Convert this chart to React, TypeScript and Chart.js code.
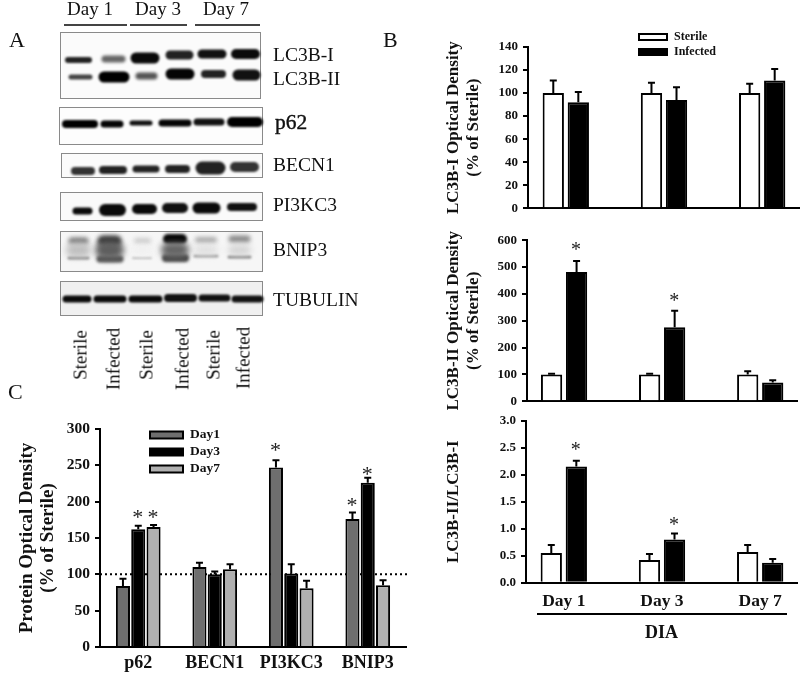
import React, { useEffect, useRef } from "react";
import { Chart, registerables } from "chart.js";

Chart.register(...registerables);

const SERIF = "'Liberation Serif', 'Times New Roman', serif";

// ---------- Panel B data ----------
const dayLabels = ["Day 1", "Day 3", "Day 7"];
const lc3b1Sterile = [100, 100, 100];
const lc3b1SterileTop = [111, 109, 108];
const lc3b1Infected = [92, 94, 111];
const lc3b1InfectedTop = [101, 105, 121];

const lc3b2Sterile = [100, 100, 100];
const lc3b2SterileTop = [103, 103, 112];
const lc3b2Infected = [482, 276, 70];
const lc3b2InfectedTop = [523, 337, 78];
const lc3b2InfectedStars = [582, 390, null];

const ratioSterile = [0.55, 0.42, 0.57];
const ratioSterileTop = [0.7, 0.53, 0.7];
const ratioInfected = [2.15, 0.8, 0.37];
const ratioInfectedTop = [2.26, 0.91, 0.44];
const ratioInfectedStars = [2.55, 1.16, null];

// ---------- Panel C data ----------
const proteinLabels = ["p62", "BECN1", "PI3KC3", "BNIP3"];
const day1Values = [84, 110, 247, 176];
const day1Top = [94, 116, 257, 185];
const day1Stars = [null, null, 278, 202];
const day3Values = [162, 100, 101, 226];
const day3Top = [167, 104, 114, 233];
const day3Stars = [186, null, null, 245];
const day7Values = [165, 107, 81, 85];
const day7Top = [168, 114, 91, 92];
const day7Stars = [186, null, null, null];

// ---------- Panel A: blot bands as [from, to, row, thickness, grey, blur] in gel units ----------
const lc3b1Bands = [[68, 89, 60, 6, "#222", 1.3], [105, 122, 59, 7, "#666", 1.5], [136, 154, 58, 11, "#0a0a0a", 1.3], [170, 189, 55, 9, "#222", 1.3], [202, 222, 54, 9, "#111", 1.3], [236, 255, 54, 10, "#0a0a0a", 1.3]];
const lc3b2Bands = [[71, 90, 77, 5, "#444", 1.3], [104, 124, 77, 11, "#000", 1.3], [139, 154, 76, 7, "#555", 1.5], [171, 189, 74, 11, "#050505", 1.3], [205, 222, 74, 8, "#222", 1.3], [238, 255, 75, 11, "#111", 1.3]];
const p62Bands = [[66, 94, 124, 8, "#000", 1.2], [104, 120, 124, 7, "#050505", 1.2], [132, 150, 123, 5, "#111", 1.2], [162, 188, 123, 7, "#050505", 1.2], [197, 221, 122, 7, "#111", 1.2], [232, 258, 122, 10, "#000", 1.2]];
const becn1Bands = [[75, 91, 171, 8, "#333", 1.2], [103, 123, 170, 8, "#222", 1.2], [136, 156, 169, 7, "#222", 1.2], [169, 186, 169, 8, "#222", 1.2], [202, 219, 168, 13, "#222", 1.2], [235, 254, 167, 10, "#333", 1.2]];
const pi3kc3Bands = [[76, 89, 211, 7, "#0a0a0a", 1.2], [105, 120, 210, 12, "#0a0a0a", 1.2], [137, 152, 209, 10, "#0a0a0a", 1.2], [167, 183, 208, 10, "#111", 1.2], [198, 215, 208, 11, "#0a0a0a", 1.2], [231, 253, 207, 8, "#111", 1.2]];
const bnip3Haze = [[73, 84, 250, 14, "#c0c0c0", 3], [104, 115, 250, 18, "#5e5e5e", 3], [137, 148, 250, 10, "#f0f0f0", 3], [169, 181, 250, 16, "#666", 3], [199, 213, 250, 10, "#e0e0e0", 3], [233, 246, 250, 10, "#d4d4d4", 3]];
const bnip3Upper = [[72, 85, 241, 7, "#777", 2], [103, 116, 241, 11, "#333", 2], [137, 148, 241, 6, "#ccc", 2], [168, 182, 239, 10, "#000", 1.6], [198, 214, 240, 6, "#aaa", 2], [232, 247, 239, 7, "#888", 2]];
const bnip3Lower = [[69, 88, 258, 3, "#888", 1.2], [100, 120, 259, 7, "#555", 1.8], [133, 151, 258, 2, "#bbb", 1.2], [166, 185, 258, 8, "#444", 1.8], [195, 217, 256, 3, "#999", 1.2], [229, 250, 257, 3, "#888", 1.2]];
const tubulinBands = [[66, 88, 299, 7, "#0a0a0a", 1.1], [97, 123, 299, 7, "#0a0a0a", 1.1], [132, 159, 299, 7, "#0a0a0a", 1.1], [168, 193, 298, 8, "#111", 1.1], [202, 227, 298, 7, "#111", 1.1], [235, 260, 299, 7, "#111", 1.1]];
const allBands = [bnip3Haze, lc3b1Bands, lc3b2Bands, p62Bands, becn1Bands, pi3kc3Bands, bnip3Upper, bnip3Lower, tubulinBands];

const blotFrames = [
  { l: 60, t: 32, w: 201, h: 67, bg: "#fbfbfb" },
  { l: 59, t: 107, w: 204, h: 38, bg: "#fdfdfd" },
  { l: 61, t: 153, w: 202, h: 25, bg: "#fbfbfb" },
  { l: 60, t: 192, w: 203, h: 29, bg: "#fafafa" },
  { l: 60, t: 231, w: 203, h: 41, bg: "#f6f6f6" },
  { l: 60, t: 281, w: 203, h: 35, bg: "#f0f0f0" },
];
const blotRowLabels = [
  { t: "LC3B-I", x: 273, y: 55, s: 19.5 },
  { t: "LC3B-II", x: 273, y: 79, s: 19.5 },
  { t: "p62", x: 275, y: 123, s: 21.5, b: true },
  { t: "BECN1", x: 273, y: 165, s: 19.5 },
  { t: "PI3KC3", x: 273, y: 205, s: 19.5 },
  { t: "BNIP3", x: 273, y: 250, s: 19.5 },
  { t: "TUBULIN", x: 273, y: 300, s: 19.5 },
  { t: "Day 1", x: 67, y: 8, s: 19 },
  { t: "Day 3", x: 135, y: 8, s: 19 },
  { t: "Day 7", x: 203, y: 8, s: 19 },
  { t: "A", x: 9, y: 40, s: 22 },
  { t: "B", x: 383, y: 40, s: 22 },
  { t: "C", x: 8, y: 392, s: 22 },
];
const laneLabels = [
  { t: "Sterile", x: 80, y: 355 },
  { t: "Infected", x: 113, y: 359 },
  { t: "Sterile", x: 146, y: 355 },
  { t: "Infected", x: 182, y: 359 },
  { t: "Sterile", x: 213, y: 355 },
  { t: "Infected", x: 243, y: 358 },
];
const rules = [
  { l: 64, t: 24, w: 63, h: 2, c: "#444" },
  { l: 130, t: 24, w: 57, h: 2, c: "#444" },
  { l: 195, t: 24, w: 65, h: 2, c: "#444" },
  { l: 537, t: 613, w: 250, h: 2, c: "#000" },
];

type Series = { label: string; values: number[]; tops: number[]; stars?: (number | null)[]; fill: string };
type PanelProps = {
  left: number; top: number; width: number; height: number;
  axisW: number; axisH: number; padTop: number; padRight: number;
  xMin: number; xMax: number; labels: string[]; showX: boolean;
  yMax: number; step: number; decimals?: number;
  series: Series[]; catPct: number; barPct: number;
  title: string | string[]; titleSize: number; titleLH: number; titlePad: number;
  tickSize: number; xSize: number; xPad: number; capHalf: number; starSize: number;
  legend?: { x: number; y: number[]; w: number; h: number; tx: number; size: number };
  refLine?: number; xTitle?: string;
};

function BarPanel(p: PanelProps) {
  const ref = useRef<HTMLCanvasElement>(null);
  useEffect(() => {
    const overlay = {
      id: "overlay",
      beforeDatasetsDraw(c: any) {
        if (p.refLine === undefined) return;
        const y = c.scales.y.getPixelForValue(p.refLine);
        const g = c.ctx;
        g.save();
        g.strokeStyle = "#000";
        g.lineWidth = 2;
        g.setLineDash([2, 3]);
        g.beginPath();
        g.moveTo(c.chartArea.left, y);
        g.lineTo(c.chartArea.right + 2, y);
        g.stroke();
        g.restore();
      },
      afterDatasetsDraw(c: any) {
        const g = c.ctx;
        g.save();
        g.strokeStyle = "#000";
        g.fillStyle = "#000";
        g.lineWidth = 2;
        p.series.forEach((s, i) => {
          const bars = c.getDatasetMeta(i).data;
          s.tops.forEach((t, j) => {
            const x = bars[j].x;
            const y0 = c.scales.y.getPixelForValue(s.values[j]);
            const y1 = c.scales.y.getPixelForValue(t);
            g.beginPath();
            g.moveTo(x, y0);
            g.lineTo(x, y1);
            g.moveTo(x - p.capHalf, y1);
            g.lineTo(x + p.capHalf, y1);
            g.stroke();
            const star = s.stars ? s.stars[j] : null;
            if (star !== null && star !== undefined) {
              g.font = `${p.starSize}px ${SERIF}`;
              g.textAlign = "center";
              g.textBaseline = "alphabetic";
              g.fillStyle = "#222";
              g.fillText("*", x - 0.5, c.scales.y.getPixelForValue(star) + p.starSize * 0.53);
              g.fillStyle = "#000";
            }
          });
        });
        if (p.legend) {
          const L = p.legend;
          p.series.forEach((s, i) => {
            g.fillStyle = s.fill;
            g.fillRect(L.x, L.y[i] - L.h / 2, L.w, L.h);
            g.strokeRect(L.x, L.y[i] - L.h / 2, L.w, L.h);
            g.fillStyle = "#111";
            g.font = `bold ${L.size}px ${SERIF}`;
            g.textAlign = "left";
            g.textBaseline = "middle";
            g.fillText(s.label, L.tx, L.y[i]);
          });
        }
        g.restore();
      },
    };
    const chart = new Chart(ref.current!, {
      type: "bar",
      data: {
        datasets: p.series.map((s) => ({
          label: s.label,
          data: s.values.map((v, i) => ({ x: i, y: v })),
          backgroundColor: s.fill,
          borderColor: "#000",
          borderWidth: 2,
          borderSkipped: "bottom",
          categoryPercentage: p.catPct,
          barPercentage: p.barPct,
        })),
      },
      options: {
        animation: false,
        responsive: false,
        layout: { padding: { top: p.padTop, right: p.padRight, left: 0, bottom: 0 } },
        plugins: { legend: { display: false }, tooltip: { enabled: false } },
        scales: {
          x: {
            type: "linear",
            offset: false,
            min: p.xMin,
            max: p.xMax,
            grid: { display: false, drawTicks: false, offset: false },
            border: { display: true, color: "#000", width: 2 },
            afterBuildTicks: (s: any) => {
              s.ticks = p.labels.map((_, i) => ({ value: i }));
            },
            afterFit: (s: any) => {
              s.height = p.axisH;
              s.paddingLeft = 0;
              s.paddingRight = 0;
            },
            ticks: {
              display: p.showX,
              autoSkip: false,
              maxRotation: 0,
              padding: p.xPad,
              color: "#111",
              font: { family: SERIF, size: p.xSize, weight: "bold" },
              callback: (v: any) => p.labels[v as number] ?? "",
            },
            title: p.xTitle
              ? { display: true, text: p.xTitle, color: "#111", padding: { top: 2, bottom: 0 }, font: { family: SERIF, size: 18, weight: "bold" } }
              : { display: false },
          },
          y: {
            min: 0,
            max: p.yMax,
            grid: { drawOnChartArea: false, drawTicks: true, tickLength: 5, color: "#000", lineWidth: 2 },
            border: { display: true, color: "#000", width: 2 },
            afterFit: (s: any) => {
              s.width = p.axisW;
              s.paddingTop = 0;
              s.paddingBottom = 0;
            },
            ticks: {
              stepSize: p.step,
              padding: 5,
              color: "#111",
              font: { family: SERIF, size: p.tickSize, weight: "bold" },
              callback: (v: any) => (p.decimals ? Number(v).toFixed(p.decimals) : String(v)),
            },
            title: {
              display: true,
              text: p.title,
              color: "#111",
              padding: { top: p.titlePad, bottom: 0 },
              font: { family: SERIF, size: p.titleSize, weight: "bold", lineHeight: p.titleLH },
            },
          },
        },
      } as any,
      plugins: [overlay],
    } as any);
    return () => chart.destroy();
  }, []);
  return (
    <canvas
      ref={ref}
      width={p.width}
      height={p.height}
      style={{ position: "absolute", left: p.left, top: p.top, width: p.width, height: p.height }}
    />
  );
}

function BlotChart() {
  const ref = useRef<HTMLCanvasElement>(null);
  useEffect(() => {
    const blur = {
      id: "blur",
      beforeDatasetDraw(c: any, args: any) {
        c.ctx.save();
        c.ctx.filter = `blur(${c.data.datasets[args.index].blurPx}px)`;
      },
      afterDatasetDraw(c: any) {
        c.ctx.restore();
      },
    };
    const datasets = allBands.flat().map((b: any[]) => ({
      data: [
        { x: b[0], y: b[2] },
        { x: b[1], y: b[2] },
      ],
      borderColor: b[4],
      borderWidth: b[3],
      blurPx: b[5],
      borderCapStyle: "round",
      pointRadius: 0,
      clip: false,
    }));
    const chart = new Chart(ref.current!, {
      type: "line",
      data: { datasets },
      options: {
        animation: false,
        responsive: false,
        layout: { padding: 0 },
        plugins: { legend: { display: false }, tooltip: { enabled: false } },
        scales: {
          x: { type: "linear", display: false, min: 55, max: 270 },
          y: { type: "linear", display: false, min: 25, max: 320, reverse: true },
        },
      },
      plugins: [blur],
    } as any);
    return () => chart.destroy();
  }, []);
  return <canvas ref={ref} width={215} height={295} style={{ position: "absolute", left: 55, top: 25, width: 215, height: 295 }} />;
}

export default function App() {
  return (
    <div style={{ position: "absolute", left: 0, top: 0, width: 800, height: 673, overflow: "hidden", background: "#fff", fontFamily: SERIF, color: "#111" }}>
      {blotFrames.map((f, i) => (
        <div key={i} style={{ position: "absolute", left: f.l, top: f.t, width: f.w, height: f.h, boxSizing: "border-box", border: "1.5px solid #8a8a8a", background: f.bg }} />
      ))}
      <BlotChart />
      {blotRowLabels.map((l, i) => (
        <div key={i} style={{ position: "absolute", left: l.x, top: l.y, transform: "translateY(-50%)", fontSize: l.s, whiteSpace: "nowrap", lineHeight: 1, willChange: "transform", WebkitTextStroke: l.b ? "0.4px #111" : undefined }}>
          {l.t}
        </div>
      ))}
      {laneLabels.map((l, i) => (
        <div key={i} style={{ position: "absolute", left: l.x, top: l.y, transform: "translate(-50%,-50%) rotate(-90deg)", fontSize: 19, whiteSpace: "nowrap", lineHeight: 1, willChange: "transform" }}>
          {l.t}
        </div>
      ))}
      {rules.map((r, i) => (
        <div key={i} style={{ position: "absolute", left: r.l, top: r.t, width: r.w, height: r.h, background: r.c }} />
      ))}

      <BarPanel
        left={0} top={405} width={430} height={268}
        axisW={100} axisH={26} padTop={24} padRight={24}
        xMin={-0.5} xMax={3.5} labels={proteinLabels} showX
        yMax={300} step={50}
        series={[
          { label: "Day1", values: day1Values, tops: day1Top, stars: day1Stars, fill: "#6e6e6e" },
          { label: "Day3", values: day3Values, tops: day3Top, stars: day3Stars, fill: "#000" },
          { label: "Day7", values: day7Values, tops: day7Top, stars: day7Stars, fill: "#b0b0b0" },
        ]}
        catPct={0.6} barPct={0.92}
        title={["Protein Optical Density", "(% of Sterile)"]} titleSize={19} titleLH={1.08} titlePad={17}
        tickSize={15.5} xSize={18} xPad={6} capHalf={3.5} starSize={22}
        legend={{ x: 150, y: [30, 47, 64], w: 33, h: 7, tx: 190, size: 13.5 }}
        refLine={100}
      />
      <BarPanel
        left={440} top={25} width={360} height={195}
        axisW={88} axisH={11.7} padTop={22} padRight={1}
        xMin={-0.385} xMax={2.375} labels={dayLabels} showX={false}
        yMax={140} step={20}
        series={[
          { label: "Sterile", values: lc3b1Sterile, tops: lc3b1SterileTop, fill: "#fff" },
          { label: "Infected", values: lc3b1Infected, tops: lc3b1InfectedTop, fill: "#000" },
        ]}
        catPct={0.51} barPct={0.85}
        title={["LC3B-I Optical Density", "(% of Sterile)"]} titleSize={17} titleLH={1.2} titlePad={3}
        tickSize={13} xSize={17.5} xPad={6} capHalf={3.5} starSize={20}
        legend={{ x: 199, y: [12, 27], w: 28, h: 6, tx: 234, size: 12 }}
      />
      <BarPanel
        left={440} top={230} width={360} height={180}
        axisW={87} axisH={8.7} padTop={10.3} padRight={3}
        xMin={-0.378} xMax={2.375} labels={dayLabels} showX={false}
        yMax={600} step={100}
        series={[
          { label: "Sterile", values: lc3b2Sterile, tops: lc3b2SterileTop, fill: "#fff" },
          { label: "Infected", values: lc3b2Infected, tops: lc3b2InfectedTop, stars: lc3b2InfectedStars, fill: "#000" },
        ]}
        catPct={0.51} barPct={0.85}
        title={["LC3B-II Optical Density", "(% of Sterile)"]} titleSize={17} titleLH={1.2} titlePad={3}
        tickSize={13} xSize={17.5} xPad={6} capHalf={3.5} starSize={20}
      />
      <BarPanel
        left={440} top={412} width={360} height={232}
        axisW={86} axisH={61.3} padTop={8.7} padRight={3}
        xMin={-0.385} xMax={2.375} labels={dayLabels} showX
        yMax={3} step={0.5} decimals={1}
        series={[
          { label: "Sterile", values: ratioSterile, tops: ratioSterileTop, fill: "#fff" },
          { label: "Infected", values: ratioInfected, tops: ratioInfectedTop, stars: ratioInfectedStars, fill: "#000" },
        ]}
        catPct={0.51} barPct={0.85}
        title="LC3B-II/LC3B-I" titleSize={17} titleLH={1.2} titlePad={3}
        tickSize={13} xSize={17.5} xPad={8} capHalf={3.5} starSize={20}
        xTitle="DIA"
      />
    </div>
  );
}
